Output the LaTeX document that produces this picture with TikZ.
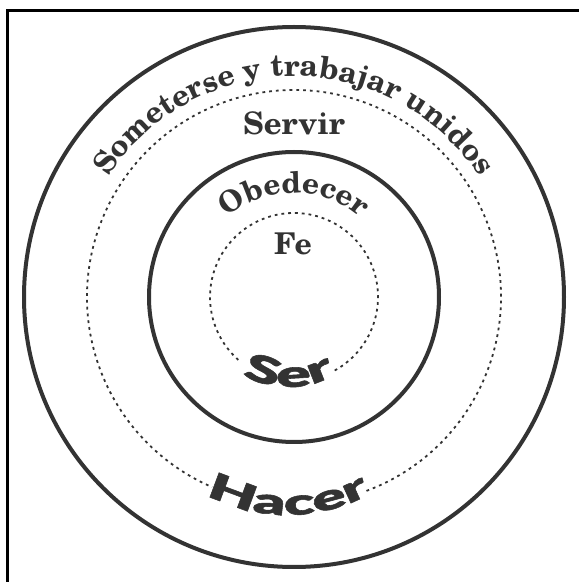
\documentclass[tikz,border=0pt]{standalone}
\usepackage{fontspec}
\usetikzlibrary{decorations.text}
\newfontfamily\scholafont{TeX Gyre Schola}
\newfontfamily\heavyfont{Lato Black}[FakeStretch=1.75, FakeBold=1.5]
\definecolor{ink}{HTML}{333333}
\tikzset{
  solidring/.style={draw=ink, line width=4pt},
  dotring/.style={draw=ink, line width=1.8pt, dash pattern=on 2.8pt off 4pt},
  frameline/.style={draw=black, line width=3pt, line join=miter},
  serif/.style={text=ink, font=\scholafont\bfseries\fontsize{#1}{#1}\selectfont},
}
\begin{document}
\begin{tikzpicture}[x=1pt,y=1pt]
\useasboundingbox (0,0) rectangle (579,582);
\fill[white] (0,0) rectangle (579,582);
\draw[frameline] (7.5,0) -- (7.5,571.5) -- (579,571.5);
\begin{scope}[shift={(294,285)}]
  \coordinate (C) at (0,0);
  % rings
  \draw[solidring] (C) circle[radius=270];
  \draw[solidring] (C) circle[radius=145];
  \draw[dotring] (290.5:207) arc[start angle=290.5, end angle=606.7, radius=207];
  \draw[dotring] (299:84) arc[start angle=299, end angle=590, radius=84];
  % curved texts
  \path[decorate, decoration={text along path, text align=center, text color=ink,
     text={|\scholafont\bfseries\fontsize{30}{30}\selectfont|Someterse y trabajar unidos}}]
     (170:221) arc[start angle=170, end angle=10, radius=221];
  \path[decorate, decoration={text along path, text align=center, text color=ink,
     text={|\scholafont\bfseries\fontsize{29.5}{29.5}\selectfont|Obedecer}}]
     (170:104) arc[start angle=170, end angle=10, radius=104];
  \path[decorate, decoration={text along path, text align=center, text color=ink,
     text={|\heavyfont\fontsize{37}{37}\selectfont|Ser}}]
     ([shift={(-5.5,5)}]200:95) arc[start angle=200, end angle=340, radius=95];
  \path[decorate, decoration={text along path, text align=center, text color=ink,
     text={|\heavyfont\fontsize{36}{36}\selectfont|Hacer}}]
     ([shift={(-6,-48)}]215:170) arc[start angle=215, end angle=325, radius=170];
  % straight texts
  \node[serif=31, anchor=base] (servir) at (0,162) {Servir};
  \node[serif=30, anchor=base] (fe) at (-1,42) {Fe};
\end{scope}
\end{tikzpicture}
\end{document}
